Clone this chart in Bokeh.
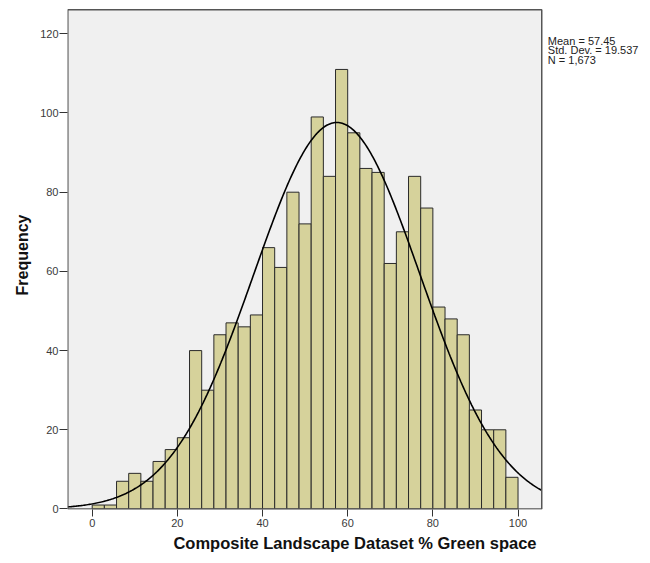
import numpy as np
from bokeh.plotting import figure
from bokeh.models import Range1d, FixedTicker
from bokeh.core.properties import value
from bokeh.embed import file_html
from bokeh.resources import INLINE

# Histogram data (35 equal-width bins from 0 to 100)
bin_low = 0.0
bin_high = 100.0
counts = [1, 1, 7, 9, 7, 12, 15, 18, 40, 30, 44, 47, 46, 49, 66, 61, 80, 72,
          99, 84, 111, 95, 86, 85, 62, 70, 84, 76, 51, 48, 44, 25, 20, 20, 8]

# Summary statistics shown in the chart
mean_val = 57.45
std_val = 19.537
n_val = 1673
stats_lines = ["Mean = 57.45", "Std. Dev. = 19.537", "N = 1,673"]

x_ticks = [0, 20, 40, 60, 80, 100]
y_ticks = [0, 20, 40, 60, 80, 100, 120]
x_title = "Composite Landscape Dataset % Green space"
y_title = "Frequency"

nb = len(counts)
edges = np.linspace(bin_low, bin_high, nb + 1)
bw = edges[1] - edges[0]

# visible plot box (data units) and the wider canvas range holding the stats text
box_x0, box_x1 = -5.73, 105.57
box_y1 = 126.1
p = figure(width=642, height=555, output_backend="svg", toolbar_location=None,
           x_range=Range1d(-5.80, 129.23), y_range=Range1d(-0.13, 128.41),
           min_border_left=67, min_border_right=0, min_border_top=0, min_border_bottom=46)

p.background_fill_color = "white"
p.border_fill_color = "white"
p.outline_line_color = None
p.xgrid.visible = False
p.ygrid.visible = False

# plot box
p.quad(left=[box_x0], right=[box_x1], bottom=[0], top=[box_y1],
       fill_color="#F0F0F0", line_color=None)

p.quad(left=edges[:-1], right=edges[1:], bottom=0, top=counts,
       fill_color="#D6D29B", line_color="#2a2a2a", line_width=1)

xs = np.linspace(box_x0, box_x1, 400)
ys = n_val * bw * np.exp(-0.5 * ((xs - mean_val) / std_val) ** 2) / (std_val * np.sqrt(2 * np.pi))
p.line(xs, ys, line_color="black", line_width=1.6)

# box border on top
p.quad(left=[box_x0], right=[box_x1], bottom=[0], top=[box_y1],
       fill_color=None, line_color="#555555", line_width=1.5)

for ax, ticks in ((p.xaxis[0], x_ticks), (p.yaxis[0], y_ticks)):
    ax.ticker = FixedTicker(ticks=ticks)
    ax.minor_tick_line_color = None
    ax.major_tick_in = 0
    ax.axis_line_color = None
    ax.major_tick_line_color = "#333333"
    ax.major_label_text_font = "Liberation Sans"
    ax.major_label_text_font_size = "11px"
    ax.major_label_text_color = "#3a3a3a"
    ax.axis_label_text_font = "Liberation Sans"
    ax.axis_label_text_font_style = "bold"
    ax.axis_label_text_color = "#111111"

p.xaxis.major_tick_out = 7
p.xaxis.major_label_standoff = 2
p.xaxis.axis_label = x_title
p.xaxis.axis_label_text_font_size = "16.5px"
p.xaxis.axis_label_standoff = 4

p.yaxis.major_tick_out = 8
p.yaxis.major_label_standoff = 1
p.yaxis.axis_label = y_title
p.yaxis.axis_label_text_font_size = "16px"
p.yaxis.axis_label_standoff = 6

p.text(x=[107.0] * 3, y=[115.8 + 2.3 * (1 - i) for i in range(3)], text=stats_lines,
       text_font=value("Liberation Sans"), text_font_size="11px",
       text_color="#222222", text_baseline="alphabetic", text_align="left")

open("out.html", "w").write(file_html(p, INLINE))
